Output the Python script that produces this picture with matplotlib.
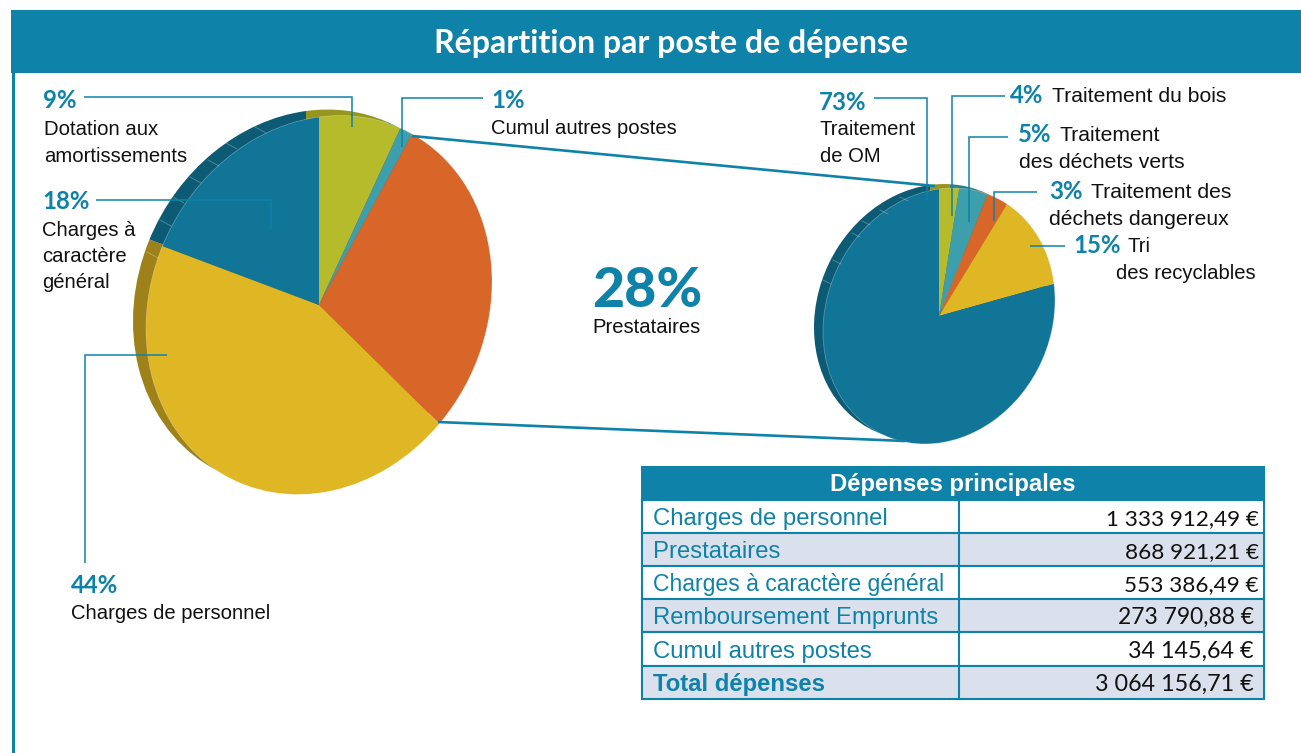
import matplotlib
matplotlib.use('Agg')
import matplotlib.pyplot as plt
from matplotlib.patches import Rectangle, Circle
from matplotlib.transforms import Affine2D

W, H = 1301, 753

TEAL = '#0e82a8'
BLUE = '#107597'
OLIVE = '#b5bb2a'
CYAN = '#3d9fac'
ORANGE = '#d76628'
YELLOW = '#dfb624'
TEXT = '#111111'
SHEAR = 0.135  # the pies lean up to the right on the page

# shares as drawn on the page (clockwise from the top)
main_names = ['Dotation', 'Autres', 'Prestataires', 'Personnel', 'Charges']
main_shares = [7.8, 1.25, 28.7, 44.25, 18.0]
main_colors = [OLIVE, CYAN, ORANGE, YELLOW, BLUE]
main_rim = ['#96951f', '#2c7d88', '#a84f1e', '#9e8119', '#0d5a75']

detail_names = ['Bois', 'Verts', 'Dangereux', 'Recyclables', 'OM']
detail_shares = [2.8, 4.1, 3.1, 12.9, 77.1]
detail_colors = [OLIVE, CYAN, ORANGE, YELLOW, BLUE]
detail_rim = ['#96951f', '#2c7d88', '#a84f1e', '#9e8119', '#0d5a75']

table_labels = ['Charges de personnel', 'Prestataires', 'Charges à caractère général',
                'Remboursement Emprunts', 'Cumul autres postes', 'Total dépenses']
label_sizes = [17.2, 17.2, 16.6, 17.2, 17.2, 17.2]
table_values = ['1 333 912,49 €', '868 921,21 €', '553 386,49 €',
                '273 790,88 €', '34 145,64 €', '3 064 156,71 €']
table_right = [1259, 1259, 1259, 1254, 1254, 1254]
value_sizes = [16.2, 16.2, 16.2, 16.4, 16.8, 16.8]
row_edges = [500, 533, 566, 599, 632, 666, 699]

# small light marks on the rims
main_ticks = [(255, 127), (226, 143), (208, 160), (190, 177), (173, 197), (160, 220), (147, 252)]
detail_ticks = [(900, 197), (880, 210), (862, 221), (852, 233), (833, 260), (823, 280)]


# Draw one flat pie stretched into a leaning ellipse, given in pixels
def draw_pie(fig, shares, colors, cx, cy, rx, ry, zorder, outline=False):
    ax = fig.add_axes([(cx - rx) / W, 1 - (cy + ry) / H, 2 * rx / W, 2 * ry / H], zorder=zorder)
    wedges, _ = ax.pie(shares, colors=colors, startangle=90, counterclock=False, radius=1,
                       wedgeprops={'linewidth': 0})
    ax.set_aspect('auto')
    ax.set_xlim(-1, 1)
    ax.set_ylim(-1, 1)
    ax.patch.set_alpha(0)
    lean = Affine2D([[1, 0, 0], [SHEAR * rx / ry, 1, 0], [0, 0, 1]]) + ax.transData
    for w in wedges:
        w.set_transform(lean)
        w.set_clip_on(False)
    if outline:
        ax.add_patch(Circle((0, 0), 1, fill=False, ec='white', alpha=0.35, lw=0.5,
                            transform=lean, clip_on=False))
    return ax


def leader(ax, xs, ys):
    ax.plot(xs, ys, color=TEAL, lw=1.1, solid_joinstyle='miter', solid_capstyle='butt')


def pct(ax, x, y, s, size=17.3, weight='bold'):
    ax.text(x, y, s, color=TEAL, fontsize=size, fontweight=weight, family='Lato', va='baseline')


def label(ax, x, y, s, size=14.6):
    ax.text(x, y, s, color=TEXT, fontsize=size, family='Liberation Sans', va='baseline')


def main():
    fig = plt.figure(figsize=(W / 100, H / 100), dpi=100, facecolor='white')

    # background layer in pixel coordinates
    bg = fig.add_axes([0, 0, 1, 1], zorder=0)
    bg.set_xlim(0, W)
    bg.set_ylim(H, 0)
    bg.axis('off')
    bg.add_patch(Rectangle((11, 10), W - 11, 63, color=TEAL, lw=0))
    bg.add_patch(Rectangle((12, 72), 2.5, H - 72, color=TEAL, lw=0))

    # rims first, faces on top
    draw_pie(fig, main_shares, main_rim, 306, 298, 173, 187, 1)
    draw_pie(fig, main_shares, main_colors, 319, 305, 173, 188, 2, outline=True)
    draw_pie(fig, detail_shares, detail_rim, 930, 312, 116, 127, 1)
    draw_pie(fig, detail_shares, detail_colors, 939, 316, 116, 127, 2, outline=True)

    # overlay for text, leaders and table
    ax = fig.add_axes([0, 0, 1, 1], zorder=3)
    ax.set_xlim(0, W)
    ax.set_ylim(H, 0)
    ax.axis('off')
    ax.patch.set_alpha(0)

    for x, y in main_ticks:
        ax.plot([x, x + 11], [y, y + 6], color='white', alpha=0.3, lw=0.6)
    for x, y in detail_ticks:
        ax.plot([x, x + 8], [y, y + 4], color='white', alpha=0.3, lw=0.6)

    ax.text(671, 43, 'Répartition par poste de dépense', color='white', fontsize=23.1,
            fontweight='bold', family='Lato', ha='center', va='center')

    # connectors between the two pies
    ax.plot([412, 935], [136, 186], color=TEAL, lw=1.9, solid_capstyle='butt')
    ax.plot([438, 905], [422, 441], color=TEAL, lw=1.9, solid_capstyle='butt')

    leader(ax, [84, 352, 352], [97, 97, 127])
    leader(ax, [483, 402, 402], [98, 98, 147])
    leader(ax, [96, 271, 271], [200, 200, 229])
    leader(ax, [85, 85, 167], [563, 355, 355])
    leader(ax, [874, 927, 927], [98, 98, 200])
    leader(ax, [1005, 952, 952], [96, 96, 216])
    leader(ax, [1008, 969, 969], [137, 137, 222])
    leader(ax, [1037, 994, 994], [192, 192, 221])
    leader(ax, [1065, 1030], [246, 246])

    pct(ax, 43, 108, '9%')
    label(ax, 44, 135, 'Dotation aux')
    label(ax, 44, 162, 'amortissements')
    pct(ax, 42, 209, '18%')
    label(ax, 42, 236, 'Charges à')
    label(ax, 42, 262, 'caractère')
    label(ax, 42, 288, 'général')
    pct(ax, 71, 593, '44%')
    label(ax, 71, 619, 'Charges de personnel')
    pct(ax, 491, 108, '1%')
    label(ax, 491, 134, 'Cumul autres postes')
    pct(ax, 592, 307, '28%', size=40, weight='black')
    label(ax, 592, 333, 'Prestataires')
    pct(ax, 819, 110, '73%')
    label(ax, 820, 135, 'Traitement')
    label(ax, 820, 162, 'de OM')
    pct(ax, 1010, 103, '4%')
    label(ax, 1052, 102, 'Traitement du bois', 15.2)
    pct(ax, 1018, 142, '5%')
    label(ax, 1060, 141, 'Traitement', 15.2)
    label(ax, 1019, 168, 'des déchets verts', 15.2)
    pct(ax, 1049, 199, '3%')
    label(ax, 1091, 198, 'Traitement des', 15.2)
    label(ax, 1049, 225, 'déchets dangereux', 15.2)
    pct(ax, 1073, 253, '15%')
    label(ax, 1127, 252, 'Tri')
    label(ax, 1116, 279, 'des recyclables')

    # table
    ax.add_patch(Rectangle((641, 466), 624, 34, color=TEAL, lw=0))
    ax.text(953, 484, 'Dépenses principales', color='white', fontsize=17.2, fontweight='bold',
            family='Liberation Sans', ha='center', va='center')
    for i, name in enumerate(table_labels):
        top, bottom = row_edges[i], row_edges[i + 1]
        fill = '#dae1ec' if i % 2 == 1 else 'white'
        ax.add_patch(Rectangle((642, top), 622, bottom - top, facecolor=fill, edgecolor=TEAL, lw=1.5))
        weight = 'bold' if i == len(table_labels) - 1 else 'normal'
        ax.text(653, bottom - 8, name, color=TEAL, fontsize=label_sizes[i], fontweight=weight,
                family='Liberation Sans', va='baseline')
        ax.text(table_right[i], bottom - 8, table_values[i], color=TEXT, fontsize=value_sizes[i],
                family='Lato', ha='right', va='baseline')
    ax.plot([959, 959], [500, 699], color=TEAL, lw=1.5)

    fig.savefig('out.png', dpi=100)


if __name__ == "__main__":
    main()
